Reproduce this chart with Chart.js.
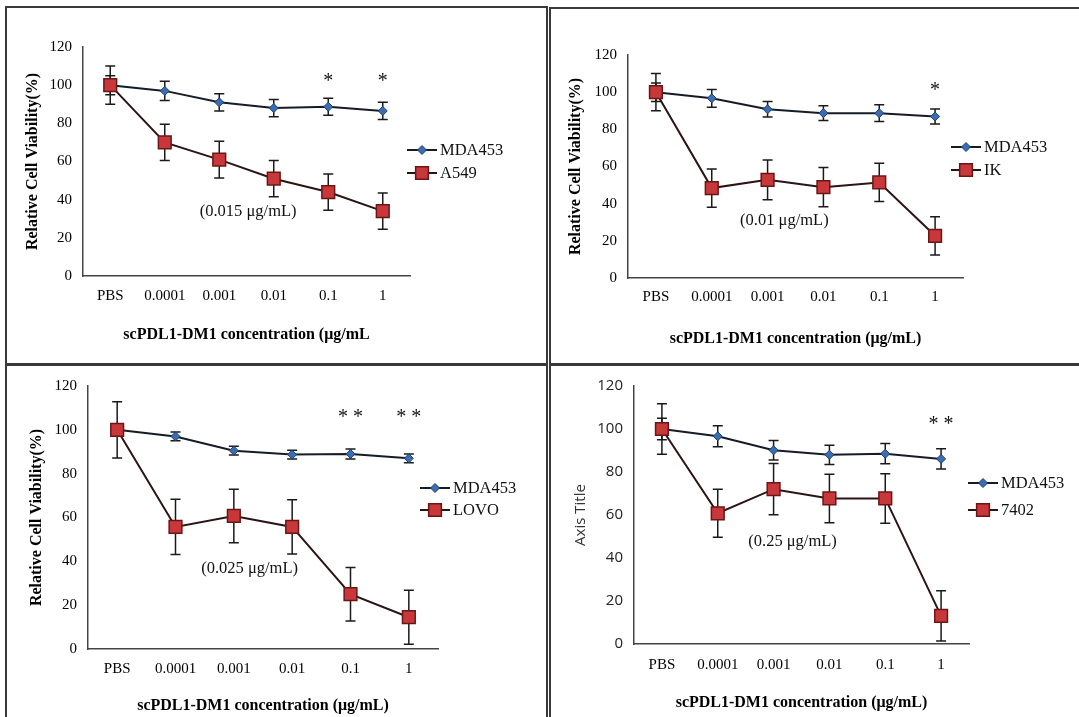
<!DOCTYPE html>
<html>
<head>
<meta charset="utf-8">
<script src="https://cdn.jsdelivr.net/npm/chart.js@4.4.1/dist/chart.umd.min.js"></script>
<style>
  body { margin: 0; background: #fff; width: 1079px; height: 717px; overflow: hidden; position: relative; }
  .panel { position: absolute; box-sizing: border-box; border: 2px solid #3a3a3a; background: #fff; }
  .panel canvas { display: block; }
</style>
</head>
<body>
<div class="panel" style="left:5px;top:6px;width:543px;height:359px"><canvas id="c1" width="539" height="355"></canvas></div>
<div class="panel" style="left:549px;top:7px;width:540px;height:358px"><canvas id="c2" width="536" height="354"></canvas></div>
<div class="panel" style="left:5px;top:364px;width:543px;height:360px"><canvas id="c3" width="539" height="356"></canvas></div>
<div class="panel" style="left:549px;top:364px;width:540px;height:360px"><canvas id="c4" width="536" height="356"></canvas></div>
<script>
// categories and axis ticks
const concentrations = ['PBS', '0.0001', '0.001', '0.01', '0.1', '1'];
const yTickValues = [0, 20, 40, 60, 80, 100, 120];

// panel 1 : MDA453 vs A549
const mdaA = [100, 97, 91, 88, 88.7, 86.5];
const mdaAErr = [5, 5, 4.5, 4.5, 4.5, 4.5];
const a549 = [100, 70, 61, 51, 44, 34];
const a549Err = [10, 9.5, 9.6, 9.5, 9.5, 9.5];

// panel 2 : MDA453 vs IK
const mdaB = [100, 96.7, 90.8, 88.7, 88.7, 86.9];
const mdaBErr = [5, 4.8, 4.2, 4, 4.5, 4];
const ik = [100, 48.4, 52.8, 48.9, 51.4, 22.7];
const ikErr = [10, 10.3, 10.7, 10.5, 10.3, 10.3];

// panel 3 : MDA453 vs LOVO
const mdaC = [100, 97, 90.5, 88.7, 89, 87];
const mdaCErr = [2, 2, 2, 2, 2.3, 2];
const lovo = [100, 55.7, 60.7, 55.7, 25, 14.5];
const lovoErr = [12.8, 12.6, 12.2, 12.4, 12.2, 12.3];

// panel 4 : MDA453 vs 7402
const mdaD = [100, 96.6, 90.1, 88, 88.5, 86.1];
const mdaDErr = [5, 4.9, 4.5, 4.5, 4.7, 4.7];
const c7402 = [100, 60.8, 72, 67.7, 67.7, 13.1];
const c7402Err = [11.8, 11.2, 11.9, 11.3, 11.5, 11.7];

const serif = "'Liberation Serif', 'Times New Roman', serif";
const sans = "'Open Sans', 'Noto Sans', sans-serif";

// error bars drawn from dataset.errors through the y scale
const errorBars = {
  id: 'errorBars',
  beforeDatasetsDraw(chart) {
    const ctx = chart.ctx, y = chart.scales.y;
    chart.data.datasets.forEach((ds, i) => {
      if (!ds.errors) return;
      const meta = chart.getDatasetMeta(i);
      ctx.save();
      ctx.strokeStyle = '#1a1a1a';
      ctx.lineWidth = 1.5;
      meta.data.forEach((pt, j) => {
        const top = y.getPixelForValue(ds.data[j] + ds.errors[j]);
        const bot = y.getPixelForValue(ds.data[j] - ds.errors[j]);
        ctx.beginPath();
        ctx.moveTo(pt.x, top); ctx.lineTo(pt.x, bot);
        ctx.moveTo(pt.x - 5, top); ctx.lineTo(pt.x + 5, top);
        ctx.moveTo(pt.x - 5, bot); ctx.lineTo(pt.x + 5, bot);
        ctx.stroke();
      });
      ctx.restore();
    });
  }
};

// text notes (IC50 and significance stars) placed in data units
const notes = {
  id: 'notes',
  afterDatasetsDraw(chart, args, opts) {
    const ctx = chart.ctx, x = chart.scales.x, y = chart.scales.y;
    ctx.save();
    ctx.fillStyle = '#111';
    ctx.textAlign = 'center';
    ctx.textBaseline = 'middle';
    opts.items.forEach(it => {
      ctx.font = it.font;
      ctx.fillText(it.text, x.getPixelForValue(it.x), y.getPixelForValue(it.y));
    });
    ctx.restore();
  }
};

// legend with line + marker like the spreadsheet one
const seriesKey = {
  id: 'seriesKey',
  afterDraw(chart, args, opts) {
    const ctx = chart.ctx;
    chart.data.datasets.forEach((ds, i) => {
      const x = opts.x, y = opts.rows[i];
      ctx.save();
      ctx.strokeStyle = ds.borderColor;
      ctx.lineWidth = 2;
      ctx.beginPath(); ctx.moveTo(x, y); ctx.lineTo(x + 30, y); ctx.stroke();
      const cx = x + 15;
      ctx.fillStyle = ds.pointBackgroundColor;
      ctx.strokeStyle = ds.pointBorderColor;
      ctx.lineWidth = ds.pointBorderWidth;
      ctx.beginPath();
      if (ds.pointStyle === 'rectRot') {
        const r = ds.pointRadius;
        ctx.moveTo(cx - r, y); ctx.lineTo(cx, y - r); ctx.lineTo(cx + r, y); ctx.lineTo(cx, y + r); ctx.closePath();
      } else {
        const s = ds.pointRadius * Math.SQRT1_2;
        ctx.rect(cx - s, y - s, 2 * s, 2 * s);
      }
      ctx.fill(); ctx.stroke();
      ctx.fillStyle = '#111';
      ctx.font = '16.5px ' + serif;
      ctx.textBaseline = 'middle';
      ctx.fillText(ds.label, x + 33, y + 1);
      ctx.restore();
    });
  }
};

function mdaSet(data, errors) {
  return {
    label: 'MDA453', data, errors, order: 2,
    borderColor: '#161c26', borderWidth: 2, tension: 0,
    pointStyle: 'rectRot', pointRadius: 4.5,
    pointBackgroundColor: '#3b6db3', pointBorderColor: '#1d3e70', pointBorderWidth: 1
  };
}

function cellSet(label, data, errors) {
  return {
    label, data, errors, order: 1,
    borderColor: '#2a1414', borderWidth: 2, tension: 0,
    pointStyle: 'rect', pointRadius: 9,
    pointBackgroundColor: '#c8383b', pointBorderColor: '#6a1616', pointBorderWidth: 1.5
  };
}

function panel(id, sets, noteItems, L) {
  const canvas = document.getElementById(id);
  return new Chart(canvas, {
    type: 'line',
    data: { labels: concentrations, datasets: sets },
    options: {
      responsive: false,
      animation: false,
      layout: { padding: { top: L.top, right: canvas.width - L.right, bottom: 0, left: 0 } },
      plugins: {
        legend: { display: false },
        tooltip: { enabled: false },
        notes: { items: noteItems },
        seriesKey: { x: L.legX, rows: L.legRows }
      },
      scales: {
        x: {
          offset: true,
          grid: { display: false, drawTicks: false },
          border: { color: '#444', width: 1.5 },
          ticks: { padding: L.xTickPad, color: '#000', font: { family: serif, size: 15 } },
          title: {
            display: true, text: L.xTitle, color: '#000',
            font: { family: serif, size: 16, weight: 'bold' },
            padding: { top: 0, bottom: L.xTitlePad }
          },
          afterFit(s) { s.height = canvas.height - L.bottom; }
        },
        y: {
          min: 0, max: 120,
          afterBuildTicks(s) { s.ticks = yTickValues.map(v => ({ value: v })); },
          grid: { display: false, drawTicks: false },
          border: { color: '#444', width: 1.5 },
          ticks: { padding: 11, color: L.yTickColor, font: L.yTickFont },
          title: {
            display: true, text: L.yTitle, color: L.yTitleColor,
            font: L.yTitleFont,
            padding: { top: L.yTitlePad, bottom: 0 }
          },
          afterFit(s) { s.width = L.left; }
        }
      }
    },
    plugins: [errorBars, notes, seriesKey]
  });
}

const starFont = '20px ' + serif;
const noteFont = '16.5px ' + serif;
const yTitleSerif = { family: serif, size: 16, weight: 'bold' };
const yTickSerif = { family: serif, size: 15 };

panel('c1', [mdaSet(mdaA, mdaAErr), cellSet('A549', a549, a549Err)], [
  { text: '(0.015 μg/mL)', x: 2.53, y: 33.7, font: noteFont },
  { text: '*', x: 4, y: 102, font: starFont },
  { text: '*', x: 5, y: 102, font: starFont }
], {
  left: 76, right: 403, top: 39, bottom: 268,
  xTickPad: 11, xTitlePad: 19, xTitle: 'scPDL1-DM1 concentration (μg/mL',
  yTitle: 'Relative Cell Viability(%)', yTitleFont: yTitleSerif, yTitleColor: '#000', yTitlePad: 16,
  yTickFont: yTickSerif, yTickColor: '#000', legX: 400, legRows: [142, 165]
});

panel('c2', [mdaSet(mdaB, mdaBErr), cellSet('IK', ik, ikErr)], [
  { text: '(0.01 μg/mL)', x: 2.30, y: 31, font: noteFont },
  { text: '*', x: 5, y: 101, font: starFont }
], {
  left: 77, right: 412, top: 46, bottom: 269,
  xTickPad: 10, xTitlePad: 15, xTitle: 'scPDL1-DM1 concentration (μg/mL)',
  yTitle: 'Relative Cell Viability(%)', yTitleFont: yTitleSerif, yTitleColor: '#000', yTitlePad: 15,
  yTickFont: yTickSerif, yTickColor: '#000', legX: 400, legRows: [138, 161]
});

panel('c3', [mdaSet(mdaC, mdaCErr), cellSet('LOVO', lovo, lovoErr)], [
  { text: '(0.025 μg/mL)', x: 2.27, y: 36.8, font: noteFont },
  { text: '* *', x: 4, y: 105.5, font: starFont },
  { text: '* *', x: 5, y: 105.5, font: starFont }
], {
  left: 81, right: 431, top: 19, bottom: 283,
  xTickPad: 11, xTitlePad: 7, xTitle: 'scPDL1-DM1 concentration (μg/mL)',
  yTitle: 'Relative Cell Viability(%)', yTitleFont: yTitleSerif, yTitleColor: '#000', yTitlePad: 20,
  yTickFont: yTickSerif, yTickColor: '#000', legX: 413, legRows: [122, 144]
});

panel('c4', [mdaSet(mdaD, mdaDErr), cellSet('7402', c7402, c7402Err)], [
  { text: '(0.25 μg/mL)', x: 2.34, y: 47.4, font: noteFont },
  { text: '* *', x: 5, y: 101.8, font: starFont }
], {
  left: 83, right: 418, top: 18, bottom: 278,
  xTickPad: 12, xTitlePad: 10, xTitle: 'scPDL1-DM1 concentration (μg/mL)',
  yTitle: 'Axis Title', yTitleFont: { family: sans, size: 15 }, yTitleColor: '#333', yTitlePad: 21,
  yTickFont: { family: sans, size: 15 }, yTickColor: '#222', legX: 417, legRows: [117, 144]
});
</script>
</body>
</html>
